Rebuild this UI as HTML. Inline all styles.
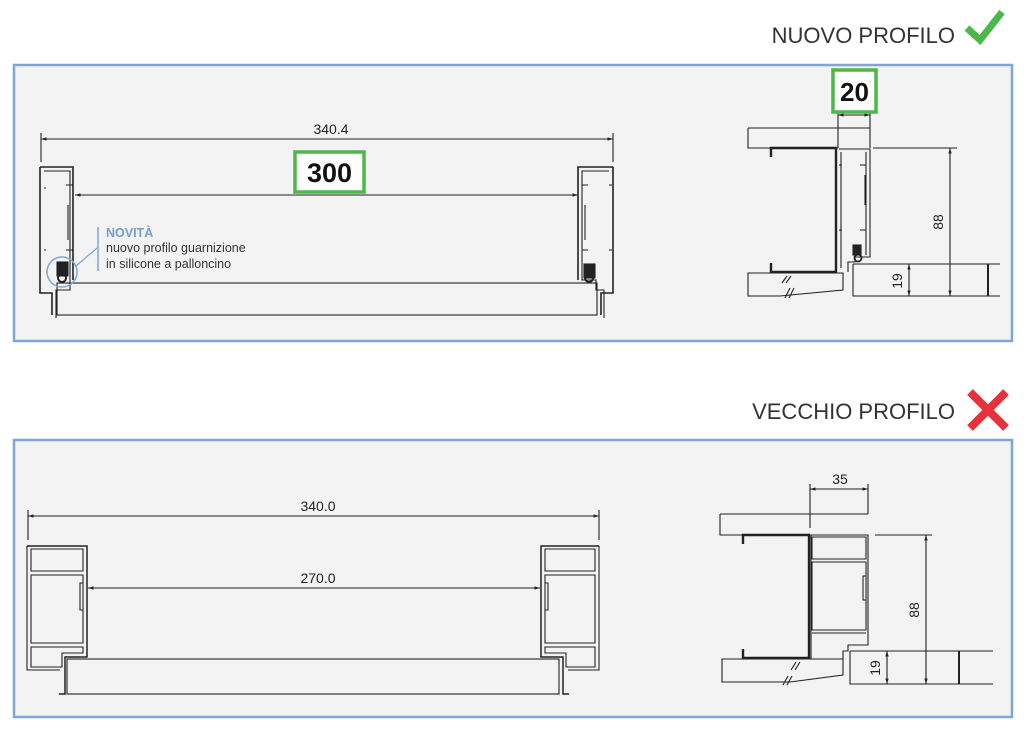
<!DOCTYPE html>
<html><head><meta charset="utf-8"><style>
html,body{margin:0;padding:0;background:#fff;}
svg{display:block;font-family:"Liberation Sans",sans-serif;}
</style></head><body>
<svg width="1024" height="731" viewBox="0 0 1024 731" xmlns="http://www.w3.org/2000/svg">
<defs>
<marker id="a" viewBox="0 0 10 10" refX="10" refY="5" markerWidth="5" markerHeight="5" orient="auto-start-reverse"><path d="M0,2 L10,5 L0,8 z" fill="#222"/></marker>
</defs>
<rect width="1024" height="731" fill="#fff"/>
<text x="955" y="43" font-size="22" fill="#333" text-anchor="end">NUOVO PROFILO</text>
<path d="M967,28 L980,40 L1002,12" fill="none" stroke="#4cb84a" stroke-width="7"/>
<text x="955" y="419" font-size="22" fill="#333" text-anchor="end">VECCHIO PROFILO</text>
<path d="M970,392 L1006,428 M1006,392 L970,428" stroke="#e8313a" stroke-width="8"/>

<rect x="14" y="65" width="998" height="276" fill="#f3f3f3" stroke="#7fa6d4" stroke-width="2.5"/>
<rect x="14" y="440" width="998" height="277" fill="#f3f3f3" stroke="#7fa6d4" stroke-width="2.5"/>

<g fill="none" stroke="#222" stroke-width="1.1">
<line x1="41" y1="133" x2="41" y2="162"/><line x1="613" y1="133" x2="613" y2="162"/>
<line x1="41" y1="139" x2="613" y2="139" marker-start="url(#a)" marker-end="url(#a)"/>
<line x1="75" y1="195" x2="578" y2="195" marker-start="url(#a)" marker-end="url(#a)"/>
<path d="M40,167 H73 V280 M40,167 V293 H52 V315" stroke-width="1.6"/>
<path d="M44,171 H70 V290 H56 V318" />
<path d="M66,185 H73 M66,250 H73 M44,188 H46 M44,250 H46 M68,205 V240"/>
<rect x="57" y="262" width="11" height="14" fill="#222"/>
<circle cx="62" cy="278" r="4" stroke-width="2"/>
<path d="M613,167 H578 V280 M613,167 V293 H601 V315" stroke-width="1.6"/>
<path d="M609,171 H582 V280 H596 V290 H604 V318"/>
<path d="M582,185 H588 M582,250 H588 M609,185 H612 M609,250 H612 M585,205 V240"/>
<rect x="584" y="264" width="11" height="14" fill="#222"/>
<circle cx="589" cy="278" r="4" stroke-width="2"/>
<rect x="57" y="283" width="540" height="32"/>
<path d="M748,128 H870 M748,128 V148 H838"/>
<path d="M771,157 V148 H836 V272 H771 V263" stroke-width="2.4"/>
<path d="M839,149 H870 V257 H855 V262 H848 V272"/>
<path d="M841,152 V268 M866,152 V255 M839,165 H842 M860,165 H866 M839,230 H842 M860,230 H866 M865,175 V205"/>
<rect x="853" y="245" width="8" height="10" fill="#222"/>
<circle cx="858" cy="258" r="3.5" stroke-width="1.8"/>
<line x1="838" y1="112" x2="838" y2="148"/><line x1="870" y1="112" x2="870" y2="148"/>
<line x1="838" y1="115" x2="870" y2="115" marker-start="url(#a)" marker-end="url(#a)"/>
<path d="M853,264 H1000 M853,264 V296 H1000"/>
<path d="M748,273 H843 V290 L780,296 H748 Z"/>
<path d="M782,283 L787,276 M786,283 L791,276 M785,298 L790,288 M789,298 L794,288"/>
<line x1="873" y1="148" x2="957" y2="148"/>
<line x1="950" y1="148" x2="950" y2="296" marker-start="url(#a)" marker-end="url(#a)"/>
<line x1="909" y1="264" x2="909" y2="296" marker-start="url(#a)" marker-end="url(#a)"/>
<line x1="988" y1="264" x2="988" y2="296" stroke-width="2"/>

<line x1="28" y1="510" x2="28" y2="540"/><line x1="599" y1="510" x2="599" y2="540"/>
<line x1="28" y1="516" x2="599" y2="516" marker-start="url(#a)" marker-end="url(#a)"/>
<line x1="88" y1="588" x2="540" y2="588" marker-start="url(#a)" marker-end="url(#a)"/>
<path d="M27,546 H87 V657 H65 V694 H59" stroke-width="1.5"/>
<path d="M27,546 V670 H60"/>
<path d="M31,549 H83 V571 H31 Z M31,575 H83 V643 H31 Z M31,647 H83 V653 H62 V667 H31 Z"/>
<path d="M83,583 H80 V610 H83"/>
<rect x="67" y="659" width="492" height="35"/>
<path d="M599,546 H541 V657 H563 V694 H569" stroke-width="1.5"/>
<path d="M599,546 V670 H568"/>
<path d="M595,549 H545 V571 H595 Z M595,575 H545 V643 H595 Z M595,647 H545 V653 H566 V667 H595 Z"/>
<path d="M545,583 H548 V610 H545"/>

<path d="M720,514 H868 M720,514 V535 H808"/>
<path d="M743,544 V535 H809 V658 H743 V649" stroke-width="2.4"/>
<path d="M811,535 H868 V645 H848 V651 H843 V659 H811 Z"/>
<path d="M812,537 H866 V559 H812 Z M812,562 H866 V630 H812 Z M812,633 H866"/>
<path d="M866,576 H863 V600 H866"/>
<line x1="810" y1="484" x2="810" y2="528"/><line x1="868" y1="484" x2="868" y2="514"/>
<line x1="810" y1="489" x2="868" y2="489" marker-start="url(#a)" marker-end="url(#a)"/>
<path d="M850,651 H993 M850,651 V684 H993"/>
<path d="M722,659 H843 V675 L790,682 H722 Z"/>
<path d="M791,670 L796,662 M795,670 L800,662 M783,685 L788,676 M787,685 L792,676"/>
<line x1="875" y1="535" x2="932" y2="535"/>
<line x1="926" y1="535" x2="926" y2="684" marker-start="url(#a)" marker-end="url(#a)"/>
<line x1="887" y1="651" x2="887" y2="684" marker-start="url(#a)" marker-end="url(#a)"/>
<line x1="959" y1="651" x2="959" y2="684" stroke-width="2"/>
</g>

<line x1="98" y1="227" x2="98" y2="271" stroke="#7fa6d4" stroke-width="1.5"/>
<line x1="76" y1="266" x2="97" y2="248" stroke="#7fa6d4" stroke-width="1.2"/>
<circle cx="62" cy="272" r="15" fill="none" stroke="#7fa6d4" stroke-width="1.5"/>
<text x="106" y="237" font-size="12.5" font-weight="bold" fill="#6f9fd6">NOVITÀ</text>
<text x="106" y="252" font-size="12.5" fill="#333">nuovo profilo guarnizione</text>
<text x="106" y="268" font-size="12.5" fill="#333">in silicone a palloncino</text>

<rect x="295" y="152" width="69" height="40" fill="#fff" stroke="#4cb84a" stroke-width="3.5"/>
<text x="329.5" y="182" font-size="27" font-weight="bold" fill="#111" text-anchor="middle">300</text>
<rect x="833" y="70" width="43" height="42" fill="#fff" stroke="#4cb84a" stroke-width="3.5"/>
<text x="854.5" y="101" font-size="26" font-weight="bold" fill="#111" text-anchor="middle">20</text>

<g font-size="14" fill="#222" text-anchor="middle">
<text x="331" y="134">340.4</text>
<text x="318" y="511">340.0</text>
<text x="318" y="583">270.0</text>
<text x="840" y="484">35</text>
<text transform="translate(943,222) rotate(-90)">88</text>
<text transform="translate(902,281) rotate(-90)">19</text>
<text transform="translate(919,610) rotate(-90)">88</text>
<text transform="translate(880,668) rotate(-90)">19</text>
</g>
</svg>
</body></html>
